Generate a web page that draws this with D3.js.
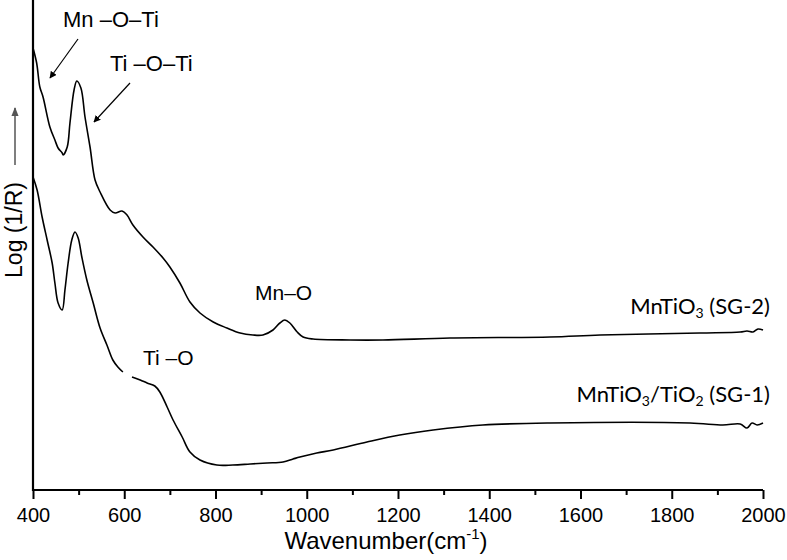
<!DOCTYPE html>
<html><head><meta charset="utf-8">
<script src="https://cdn.jsdelivr.net/npm/d3@7"></script>
<style>body{margin:0;background:#fff}svg{display:block}</style>
</head><body>
<script>
// Data (wavenumber, Log(1/R) arbitrary units)
const sg2Wave = [400,408,415,422,437,448,455,464,466,475,481,490,496,505,514,525,536,547,569,580,595,606,619,641,663,685,700,722,744,766,795,825,854,882,904,926,941,952,963,979,992,1014,1095,1167,1314,1533,1643,1862,1950,1965,1978,1989,2000];
const sg2Val  = [4.42,4.27,4.03,3.93,3.63,3.50,3.42,3.37,3.35,3.43,3.67,4.00,4.09,4.02,3.73,3.43,3.10,2.98,2.80,2.77,2.79,2.75,2.65,2.53,2.43,2.32,2.23,2.07,1.88,1.77,1.68,1.62,1.57,1.55,1.55,1.60,1.67,1.70,1.67,1.58,1.53,1.51,1.50,1.50,1.52,1.53,1.55,1.57,1.58,1.59,1.58,1.61,1.60];
const sg1Wave = [400,409,420,431,442,448,455,464,470,477,485,492,499,507,518,532,547,562,575,586,597,607,617,635,650,667,678,694,707,727,744,766,803,838,876,913,948,970,985,1022,1058,1132,1204,1277,1386,1533,1840,1912,1950,1965,1976,1987,2000];
const sg1Val  = [3.13,3.00,2.73,2.50,2.27,2.07,1.87,1.80,2.00,2.27,2.50,2.58,2.52,2.33,2.10,1.87,1.62,1.45,1.30,1.23,1.18,NaN,1.13,1.10,1.07,1.04,0.98,0.83,0.70,0.53,0.38,0.30,0.25,0.25,0.26,0.27,0.28,0.31,0.33,0.37,0.40,0.48,0.55,0.60,0.65,0.67,0.67,0.65,0.66,0.62,0.67,0.65,0.67];
const xTicks = [400,600,800,1000,1200,1400,1600,1800,2000];
const xMinor = [500,700,900,1100,1300,1500,1700,1900];

const W = 787, H = 560;
const svg = d3.select("body").append("svg").attr("width", W).attr("height", H);
const x = d3.scaleLinear().domain([400, 2000]).range([33, 763]);
const y = d3.scaleLinear().domain([0, 4.9]).range([490, 0]);

const line = d3.line().defined(d => !isNaN(d[1])).x(d => x(d[0])).y(d => y(d[1])).curve(d3.curveCatmullRom);
const sg2 = sg2Wave.map((w, i) => [w, sg2Val[i]]);
const sg1 = sg1Wave.map((w, i) => [w, sg1Val[i]]);
[sg2, sg1].forEach(s => svg.append("path").datum(s).attr("d", line)
  .attr("fill", "none").attr("stroke", "#000").attr("stroke-width", 1.6));

const arial = "Liberation Sans, Arial, sans-serif";
// axes
const xAxis = svg.append("g").attr("transform", "translate(0,490)")
  .call(d3.axisBottom(x).tickValues(xTicks).tickSize(9).tickFormat(d3.format("d")));
xAxis.select(".domain").attr("stroke-width", 2.2).attr("d", `M${x(400)},0H${x(2000)}`);
xAxis.selectAll(".tick line").attr("stroke-width", 2);
xAxis.selectAll(".tick text").attr("font-family", arial).attr("font-size", 20).attr("dy", "0.98em").attr("fill", "#000");
svg.append("g").attr("transform", "translate(0,490)")
  .call(d3.axisBottom(x).tickValues(xMinor).tickSize(5).tickFormat(""))
  .call(g => { g.select(".domain").remove(); g.selectAll("line").attr("stroke-width", 2); });
svg.append("line").attr("x1", x(400)).attr("x2", x(400)).attr("y1", 0).attr("y2", 491)
  .attr("stroke", "#000").attr("stroke-width", 2.2);

// x label
const xl = svg.append("text").attr("x", 386).attr("y", 549).attr("text-anchor", "middle")
  .attr("font-family", arial).attr("font-size", 24).attr("fill", "#000");
xl.append("tspan").text("Wavenumber(cm");
xl.append("tspan").text("-1").attr("font-size", 15).attr("dy", -10);
xl.append("tspan").text(")").attr("dy", 10);

// y label
svg.append("text").attr("transform", "translate(22,230) rotate(-90)").attr("text-anchor", "middle")
  .attr("font-family", arial).attr("font-size", 23).attr("fill", "#000").text("Log (1/R)");
svg.append("defs").html(`<marker id="ah" viewBox="0 0 10 10" refX="9" refY="5" markerWidth="7" markerHeight="7" markerUnits="userSpaceOnUse" orient="auto"><path d="M0,0L10,5L0,10z" fill="#000"/></marker>
<marker id="ag" viewBox="0 0 10 10" refX="9" refY="5" markerWidth="9" markerHeight="9" markerUnits="userSpaceOnUse" orient="auto"><path d="M0,1L10,5L0,9z" fill="#555"/></marker>`);
svg.append("line").attr("x1", 15).attr("y1", 165).attr("x2", 15).attr("y2", 108)
  .attr("stroke", "#555").attr("stroke-width", 1.5).attr("marker-end", "url(#ag)");

// annotations
function txt(t, xx, yy, fs, anchor) {
  return svg.append("text").attr("x", xx).attr("y", yy).attr("font-family", arial)
    .attr("font-size", fs).attr("text-anchor", anchor || "start").attr("fill", "#000").text(t);
}
txt("Mn \u2013O\u2013Ti", 63, 27, 22);
txt("Ti \u2013O\u2013Ti", 110, 71, 22);
txt("Mn\u2013O", 255, 300, 21);
txt("Ti \u2013O", 143, 365, 21);
function arrow(x1, y1, x2, y2) {
  svg.append("line").attr("x1", x1).attr("y1", y1).attr("x2", x2).attr("y2", y2)
    .attr("stroke", "#000").attr("stroke-width", 1.2).attr("marker-end", "url(#ah)");
}
arrow(78, 39, 50, 78);
arrow(130, 83, 94, 122);

// sample labels (Calibri-like)
const lato = "Lato, Open Sans, sans-serif";
const l2 = svg.append("text").attr("x", 770).attr("y", 314).attr("text-anchor", "end")
  .attr("font-family", lato).attr("font-size", 22).attr("fill", "#000");
l2.append("tspan").text("MnTiO");
l2.append("tspan").text("3").attr("font-size", 14).attr("dy", 4);
l2.append("tspan").text(" (SG-2)").attr("dy", -4);
const l1 = svg.append("text").attr("x", 770).attr("y", 402).attr("text-anchor", "end")
  .attr("font-family", lato).attr("font-size", 22).attr("fill", "#000");
l1.append("tspan").text("MnTiO");
l1.append("tspan").text("3").attr("font-size", 14).attr("dy", 4);
l1.append("tspan").text("/TiO").attr("dy", -4);
l1.append("tspan").text("2").attr("font-size", 14).attr("dy", 4);
l1.append("tspan").text(" (SG-1)").attr("dy", -4);
</script>
</body></html>
